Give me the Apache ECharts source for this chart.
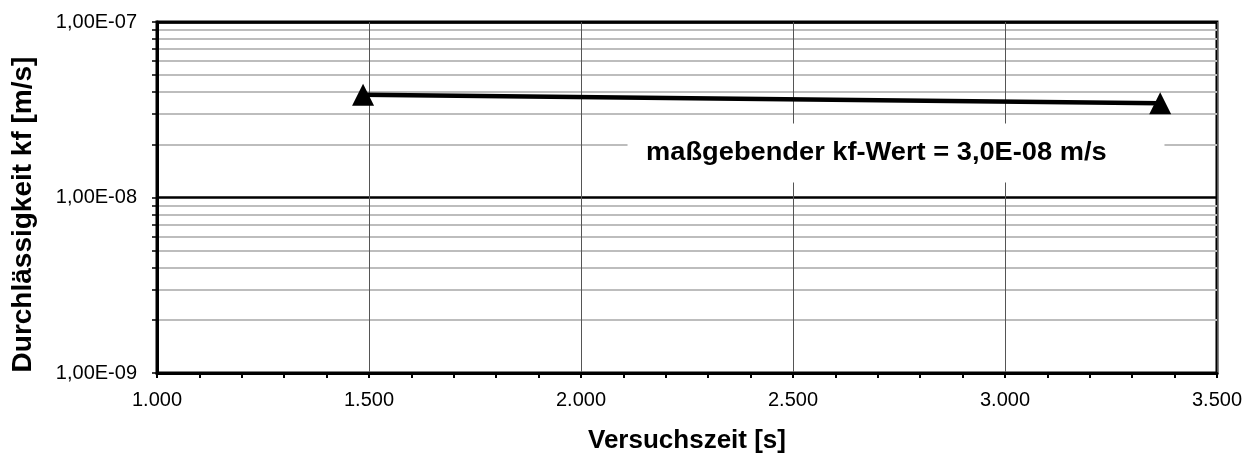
<!DOCTYPE html>
<html>
<head>
<meta charset="utf-8">
<title>Durchlässigkeit kf</title>
<script src="https://cdn.jsdelivr.net/npm/echarts@6/dist/echarts.min.js"></script>
<style>
  html, body { margin: 0; padding: 0; background: #fff; }
  #chart { width: 1245px; height: 459px; }
</style>
</head>
<body>
<div id="chart"></div>
<script>
// Messwerte: Versuchszeit [s] und Durchlässigkeit kf [m/s]
const versuchszeit = [1486, 3366];
const kfWerte = [3.85e-8, 3.44e-8];

// Achsenbereiche
const xMin = 1000, xMax = 3500, xStep = 500;
const yMin = 1e-9, yMax = 1e-7;

const annotationText = 'maßgebender kf-Wert = 3,0E-08 m/s';
const FONT = '"Liberation Sans", Arial, sans-serif';

function fmtExp(v) {
  const parts = v.toExponential(2).split('e');
  const mant = parts[0].replace('.', ',');
  const e = parseInt(parts[1], 10);
  const sign = e < 0 ? '-' : '+';
  const abs = Math.abs(e);
  return mant + 'E' + sign + (abs < 10 ? '0' + abs : abs);
}
function fmtThousands(v) {
  return String(Math.round(v)).replace(/\B(?=(\d{3})+(?!\d))/g, '.');
}

const chart = echarts.init(document.getElementById('chart'), null, { renderer: 'canvas' });

chart.setOption({
  animation: false,
  backgroundColor: '#ffffff',
  grid: {
    left: 157, right: 28, top: 22, bottom: 84,
    show: true, borderColor: '#000', borderWidth: 3, backgroundColor: 'transparent'
  },
  xAxis: {
    type: 'value',
    min: xMin, max: xMax, interval: xStep,
    name: 'Versuchszeit [s]',
    nameLocation: 'middle',
    nameGap: 55,
    nameTextStyle: { fontFamily: FONT, fontWeight: 'bold', fontSize: 26, color: '#000' },
    axisLine: { show: true, lineStyle: { color: '#000', width: 3 } },
    axisTick: { show: true, inside: false, length: 5, lineStyle: { color: '#000', width: 2 } },
    minorTick: { show: true, splitNumber: 5, length: 5, lineStyle: { color: '#000', width: 2 } },
    axisLabel: { margin: 17, fontFamily: FONT, fontSize: 20, color: '#000', formatter: fmtThousands },
    splitLine: { show: true, lineStyle: { color: '#555', width: 1 } }
  },
  yAxis: {
    type: 'log',
    logBase: 10,
    min: yMin, max: yMax,
    name: 'Durchlässigkeit kf [m/s]',
    nameLocation: 'middle',
    nameGap: 120,
    nameTextStyle: { fontFamily: FONT, fontWeight: 'bold', fontSize: 28, color: '#000', padding: [0, 34, 0, 0] },
    axisLine: { show: true, lineStyle: { color: '#000', width: 3 } },
    axisTick: { show: true, inside: false, length: 5, lineStyle: { color: '#000', width: 1.5 } },
    minorTick: { show: true, splitNumber: 9, length: 5, lineStyle: { color: '#000', width: 1.5 } },
    axisLabel: { margin: 20, fontFamily: FONT, fontSize: 20, color: '#000', formatter: fmtExp },
    splitLine: { show: true, lineStyle: { color: '#000', width: 2.5 } },
    minorSplitLine: { show: true, lineStyle: { color: '#bdbdbd', width: 2 } }
  },
  series: [{
    type: 'line',
    data: versuchszeit.map((t, i) => [t, kfWerte[i]]),
    symbol: 'triangle',
    symbolSize: 22,
    showSymbol: true,
    itemStyle: { color: '#000' },
    lineStyle: { color: '#000', width: 4.5 },
    z: 5
  }],
  graphic: [{
    type: 'text',
    x: 896, y: 153,
    scaleX: 1.09,
    z: 10,
    style: {
      text: annotationText,
      font: 'bold 25px ' + FONT,
      fill: '#000',
      align: 'center',
      verticalAlign: 'middle',
      backgroundColor: '#fff',
      padding: [17, 53, 17, 17]
    }
  }]
});
</script>
</body>
</html>
